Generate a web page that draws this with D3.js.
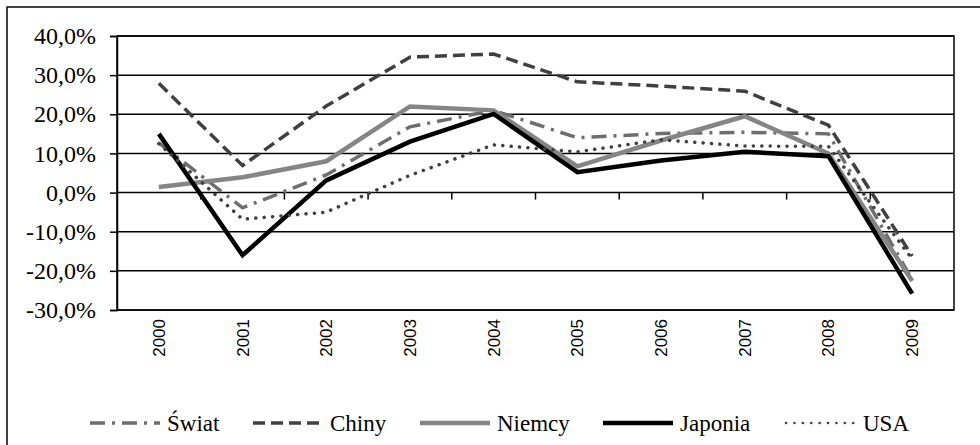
<!DOCTYPE html>
<html>
<head>
<meta charset="utf-8">
<script src="https://cdn.jsdelivr.net/npm/d3@7"></script>
<style>
  body { margin: 0; background: #fff; }
</style>
</head>
<body>
<div id="chart"></div>
<script>
// data (growth in %)
var years = ["2000", "2001", "2002", "2003", "2004", "2005", "2006", "2007", "2008", "2009"];
var swiat   = [12.7, -3.9, 4.5, 16.8, 21.0, 14.0, 15.1, 15.4, 15.0, -22.2];
var chiny   = [27.9, 6.9, 22.1, 34.6, 35.4, 28.3, 27.2, 25.9, 17.2, -16.2];
var niemcy  = [1.4, 3.9, 8.0, 22.0, 21.0, 6.7, 13.3, 19.5, 10.0, -22.6];
var japonia = [15.0, -16.0, 3.1, 13.0, 20.1, 5.2, 8.2, 10.4, 9.3, -25.8];
var usa     = [12.5, -6.8, -5.0, 4.4, 12.2, 10.4, 13.5, 11.9, 11.8, -17.0];
var yTicks  = [-30, -20, -10, 0, 10, 20, 30, 40];

var seriesNames = ["Świat", "Chiny", "Niemcy", "Japonia", "USA"];
var seriesValues = [swiat, chiny, niemcy, japonia, usa];

var svgWidth = 980;
var svgHeight = 445;

var margin = { top: 36, right: 26, bottom: 135, left: 117 };
var width = svgWidth - margin.left - margin.right;
var height = svgHeight - margin.top - margin.bottom;

var serif = "Liberation Serif";
var sans = "Liberation Sans";

// line looks for each series
var styles = [
  { color: "#6e6e6e", width: 3.5, dash: "15,7,3,7", cap: "butt" },
  { color: "#404040", width: 3.5, dash: "12,6", cap: "butt" },
  { color: "#858585", width: 4.5, dash: null, cap: "butt" },
  { color: "#000000", width: 4.5, dash: null, cap: "butt" },
  { color: "#404040", width: 3.5, dash: "0.1,8.3", cap: "round" }
];

var svg = d3.select("#chart")
  .append("svg")
  .attr("width", svgWidth)
  .attr("height", svgHeight);

// outer frame (runs off the right and bottom edges)
svg.append("rect")
  .attr("x", 7)
  .attr("y", 7)
  .attr("width", 1000)
  .attr("height", 500)
  .attr("fill", "none")
  .attr("stroke", "#000")
  .attr("stroke-width", 1.5);

var chartGroup = svg.append("g")
  .attr("transform", `translate(${margin.left}, ${margin.top})`);

var xScale = d3.scaleBand()
  .domain(years)
  .range([0, width]);

var yScale = d3.scaleLinear()
  .domain([-30, 40])
  .range([height, 0]);

// gridlines
chartGroup.selectAll(".grid")
  .data(yTicks)
  .enter()
  .append("line")
  .attr("x1", 0)
  .attr("x2", width)
  .attr("y1", d => yScale(d))
  .attr("y2", d => yScale(d))
  .attr("stroke", "#000")
  .attr("stroke-width", 1.5);

// plot border
chartGroup.append("rect")
  .attr("width", width)
  .attr("height", height)
  .attr("fill", "none")
  .attr("stroke", "#000")
  .attr("stroke-width", 1.5);

// y axis
var leftAxis = d3.axisLeft(yScale)
  .tickValues(yTicks)
  .tickSize(7)
  .tickPadding(14)
  .tickFormat(d => d.toFixed(1).replace(".", ",") + "%");

var yAxisG = chartGroup.append("g").call(leftAxis);
yAxisG.select(".domain").attr("stroke-width", 1.5);
yAxisG.selectAll(".tick line").attr("stroke-width", 1.5);
yAxisG.selectAll("text")
  .style("font-family", serif)
  .style("font-size", "24px")
  .attr("fill", "#000");

// x axis on the zero line, ticks between categories
chartGroup.selectAll(".xtick")
  .data(years.slice(1))
  .enter()
  .append("line")
  .attr("x1", d => xScale(d))
  .attr("x2", d => xScale(d))
  .attr("y1", yScale(0))
  .attr("y2", yScale(0) + 7)
  .attr("stroke", "#000")
  .attr("stroke-width", 1.5);

chartGroup.selectAll(".xlabel")
  .data(years)
  .enter()
  .append("text")
  .attr("transform", d => `translate(${xScale(d) + xScale.bandwidth() / 2}, ${height + 9}) rotate(-90)`)
  .attr("text-anchor", "end")
  .attr("dy", "0.35em")
  .style("font-family", sans)
  .style("font-size", "17px")
  .text(d => d);

// series lines
var line = d3.line()
  .x((d, i) => xScale(years[i]) + xScale.bandwidth() / 2)
  .y(d => yScale(d));

seriesValues.forEach(function(vals, k) {
  var st = styles[k];
  chartGroup.append("path")
    .datum(vals)
    .attr("d", line)
    .attr("fill", "none")
    .attr("stroke", st.color)
    .attr("stroke-width", st.width)
    .attr("stroke-dasharray", st.dash)
    .attr("stroke-linecap", st.cap)
    .attr("stroke-linejoin", "miter");
});

// legend
var legendTextX = [167, 330, 497, 680, 863];
var legendY = 423;

var legend = svg.selectAll(".legend")
  .data(seriesNames)
  .enter()
  .append("g")
  .attr("transform", (d, i) => `translate(${legendTextX[i]}, ${legendY})`);

legend.append("line")
  .attr("x1", -77)
  .attr("x2", -7)
  .attr("y1", 0)
  .attr("y2", 0)
  .attr("stroke", (d, i) => styles[i].color)
  .attr("stroke-width", (d, i) => i == 4 ? 2.5 : styles[i].width)
  .attr("stroke-dasharray", (d, i) => styles[i].dash)
  .attr("stroke-linecap", (d, i) => styles[i].cap);

legend.append("text")
  .attr("x", 0)
  .attr("y", 8)
  .style("font-family", serif)
  .style("font-size", "23px")
  .text(d => d);
</script>
</body>
</html>
